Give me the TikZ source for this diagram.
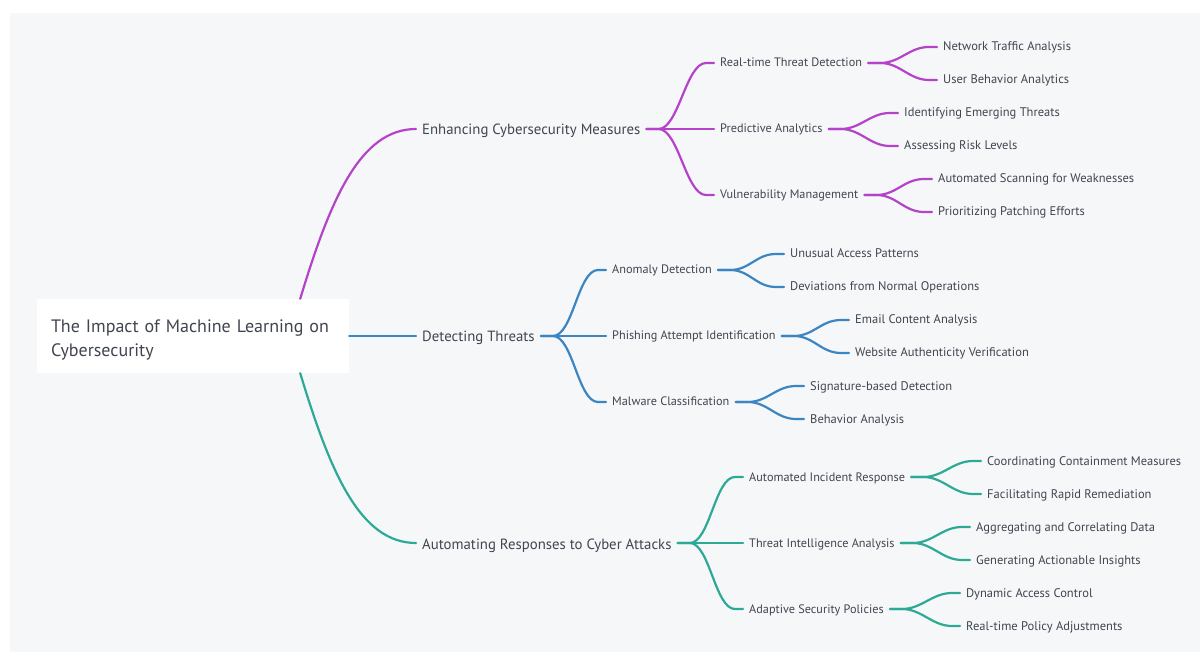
\documentclass[tikz,border=0pt]{standalone}
\usepackage{fontspec}
\setmainfont{PT Sans}
\usetikzlibrary{calc}
\definecolor{bgc}{HTML}{F6F7F9}
\definecolor{txt}{HTML}{40454F}
\definecolor{cmag}{HTML}{B543C9}
\definecolor{cblue}{HTML}{3B86C2}
\definecolor{cteal}{HTML}{2DAA95}
\tikzset{
  conn/.style={line width=2.2pt, line cap=round},
  mag/.style={conn, draw=cmag},
  blu/.style={conn, draw=cblue},
  tea/.style={conn, draw=cteal},
  lone/.style={anchor=west, inner xsep=6pt, inner ysep=2pt, text=txt, text height=12pt, text depth=0pt, font=\fontsize{14.8}{17}\selectfont},
  ltwo/.style={anchor=west, inner xsep=6pt, inner ysep=2pt, text=txt, text height=8pt, text depth=0pt, font=\fontsize{12.25}{14}\selectfont},
  lthree/.style={ltwo, font=\fontsize{12.5}{14}\selectfont},
  rootbox/.style={fill=white, draw=none, minimum width=312pt, minimum height=74pt},
  roottext/.style={text width=284pt, align=left, text=txt, inner sep=0pt, font=\fontsize{18}{24}\selectfont},
}
\newcommand\forkto[3]{%
  \draw[#1] (#2.east) -- ++(12,0) .. controls ($(#2.east)+(32,0)$) and ($(#3.west)+(-28,0)$) .. ($(#3.west)+(-8,0)$) -- (#3.west);}
\begin{document}
\begin{tikzpicture}[x=1pt,y=-1pt]
\useasboundingbox (0,0) rectangle (1200,652);
\fill[white] (0,0) rectangle (1200,652);
\fill[bgc] (10,13) rectangle (1200,652);

\node[rootbox] (root) at (193,336) {};
\node[roottext] (roottitle) at (193,340) {The Impact of Machine Learning on\\Cybersecurity};

% level 1
\node[lone] (e1) at (416,129) {Enhancing Cybersecurity Measures};
\node[lone] (e2) at (416,336) {Detecting Threats};
\node[lone] (e3) at (416,543) {Automating Responses to Cyber Attacks};

\draw[mag] ($(root.north east)+(-49,0)$) .. controls ($(root.north east)+(-19,-99)$) and ($(e1.west)+(-56,0)$) .. (e1.west);
\draw[blu] (root.east) -- (e2.west);
\draw[tea] ($(root.south east)+(-49,0)$) .. controls ($(root.south east)+(-19,99)$) and ($(e3.west)+(-56,0)$) .. (e3.west);

% magenta level 2
\node[ltwo] (m1) at (714,63) {Real-time Threat Detection};
\node[ltwo] (m2) at (714,129) {Predictive Analytics};
\node[ltwo] (m3) at (714,195) {Vulnerability Management};
\forkto{mag}{e1}{m1}\forkto{mag}{e1}{m2}\forkto{mag}{e1}{m3}
% magenta level 3
\node[lthree] (m11) at (937,47) {Network Traffic Analysis};
\node[lthree] (m12) at (937,80) {User Behavior Analytics};
\node[lthree] (m21) at (898,113) {Identifying Emerging Threats};
\node[lthree] (m22) at (898,146) {Assessing Risk Levels};
\node[lthree] (m31) at (932,179) {Automated Scanning for Weaknesses};
\node[lthree] (m32) at (932,212) {Prioritizing Patching Efforts};
\forkto{mag}{m1}{m11}\forkto{mag}{m1}{m12}
\forkto{mag}{m2}{m21}\forkto{mag}{m2}{m22}
\forkto{mag}{m3}{m31}\forkto{mag}{m3}{m32}

% blue level 2
\node[ltwo] (b1) at (606,270) {Anomaly Detection};
\node[ltwo] (b2) at (606,336) {Phishing Attempt Identification};
\node[ltwo] (b3) at (606,402) {Malware Classification};
\forkto{blu}{e2}{b1}\forkto{blu}{e2}{b2}\forkto{blu}{e2}{b3}
% blue level 3
\node[lthree] (b11) at (784,254) {Unusual Access Patterns};
\node[lthree] (b12) at (784,287) {Deviations from Normal Operations};
\node[lthree] (b21) at (849,320) {Email Content Analysis};
\node[lthree] (b22) at (849,353) {Website Authenticity Verification};
\node[lthree] (b31) at (804,386) {Signature-based Detection};
\node[lthree] (b32) at (804,419) {Behavior Analysis};
\forkto{blu}{b1}{b11}\forkto{blu}{b1}{b12}
\forkto{blu}{b2}{b21}\forkto{blu}{b2}{b22}
\forkto{blu}{b3}{b31}\forkto{blu}{b3}{b32}

% teal level 2
\node[ltwo] (t1) at (743,477) {Automated Incident Response};
\node[ltwo] (t2) at (743,543) {Threat Intelligence Analysis};
\node[ltwo] (t3) at (743,609) {Adaptive Security Policies};
\forkto{tea}{e3}{t1}\forkto{tea}{e3}{t2}\forkto{tea}{e3}{t3}
% teal level 3
\node[lthree] (t11) at (981,461) {Coordinating Containment Measures};
\node[lthree] (t12) at (981,494) {Facilitating Rapid Remediation};
\node[lthree] (t21) at (970,527) {Aggregating and Correlating Data};
\node[lthree] (t22) at (970,560) {Generating Actionable Insights};
\node[lthree] (t31) at (960,593) {Dynamic Access Control};
\node[lthree] (t32) at (960,626) {Real-time Policy Adjustments};
\forkto{tea}{t1}{t11}\forkto{tea}{t1}{t12}
\forkto{tea}{t2}{t21}\forkto{tea}{t2}{t22}
\forkto{tea}{t3}{t31}\forkto{tea}{t3}{t32}
\end{tikzpicture}
\end{document}
